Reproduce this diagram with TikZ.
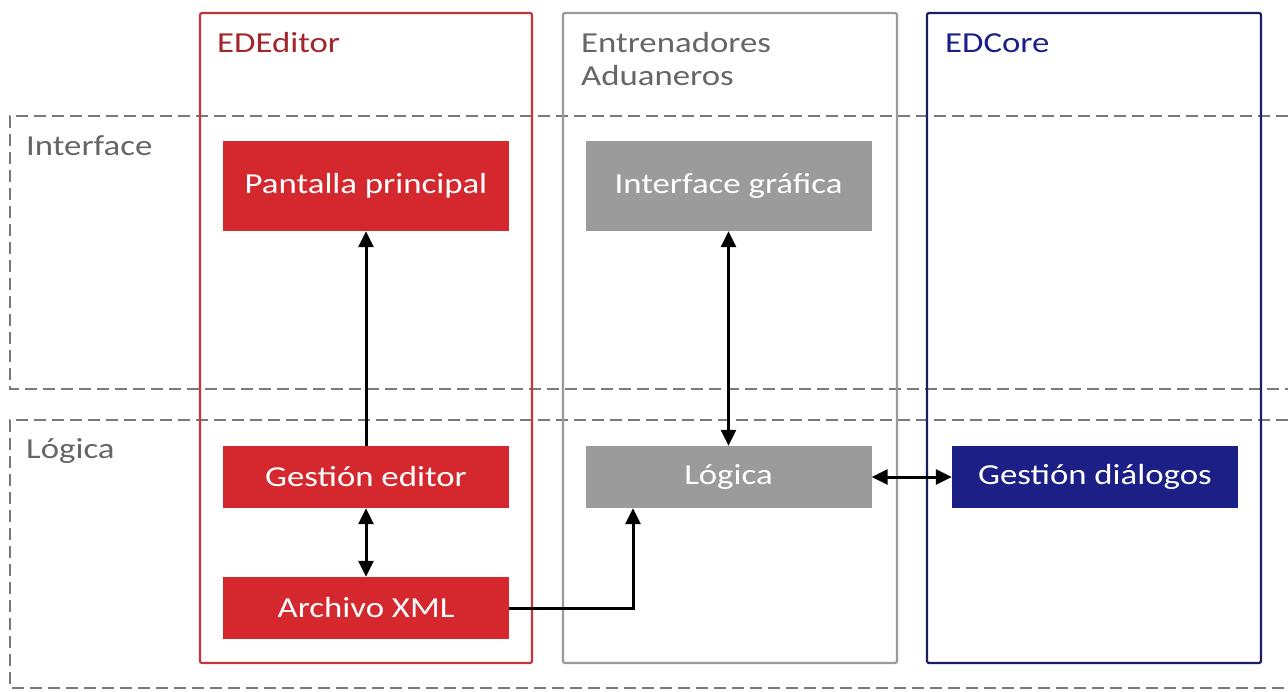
\documentclass[tikz,border=0pt]{standalone}
\usepackage{fontspec}
\setmainfont{Carlito}[FakeStretch=1.2]
\usetikzlibrary{arrows.meta}
\definecolor{cred}{HTML}{D4282E}
\definecolor{credline}{HTML}{C2373C}
\definecolor{credtext}{HTML}{A3262B}
\definecolor{cgray}{HTML}{9B9B9B}
\definecolor{cgrayline}{HTML}{9A9A9A}
\definecolor{cgraytext}{HTML}{666666}
\definecolor{cnavy}{HTML}{1C1F86}
\definecolor{cnavyline}{HTML}{1D1F5C}
\definecolor{cdash}{HTML}{7A7A7A}
\tikzset{
  layerbox/.style={draw=cdash, line width=1.8pt, dash pattern=on 12pt off 6pt},
  container/.style={line width=2.2pt, rounded corners=2pt},
  blockbox/.style={minimum height=62pt, minimum width=286pt, inner sep=0pt,
    text=white, font=\fontsize{29}{32}\selectfont},
  tallbox/.style={blockbox, minimum height=90pt},
  headlabel/.style={anchor=base west, inner sep=0pt, font=\fontsize{29}{33}\selectfont},
  arr/.style={draw=black, line width=3pt,
    -{Triangle[length=16pt,width=15pt]}},
  darr/.style={draw=black, line width=3pt,
    {Triangle[length=16pt,width=15pt]}-{Triangle[length=16pt,width=15pt]}}
}
\begin{document}
\begin{tikzpicture}[x=1pt,y=-1pt]
\useasboundingbox[fill=white] (0,0) rectangle (1288,691);

% layers
\draw[layerbox] (1288,116) -- (10,116) -- (10,389) -- (1288,389);
\draw[layerbox] (1288,420) -- (10,420) -- (10,688) -- (1288,688);
\node[headlabel, text=cgraytext] (linterface) at (26,155) {Interface};
\node[headlabel, text=cgraytext] (llogica) at (26,458) {Lógica};

% containers
\draw[container, draw=credline] (200,13) rectangle (532,663);
\draw[container, draw=cgrayline] (563,13) rectangle (897,663);
\draw[container, draw=cnavyline] (927,13) rectangle (1261,663);
\node[headlabel, text=credtext] (hed) at (217,52) {EDEditor};
\node[headlabel, text=cgraytext] (hent) at (581,52) {Entrenadores};
\node[headlabel, text=cgraytext] (hadu) at (581,85) {Aduaneros};
\node[headlabel, text=cnavy] (hcore) at (945,52) {EDCore};

% blocks
\node[tallbox, fill=cred] (pant) at (366,186) {Pantalla principal};
\node[tallbox, fill=cgray] (igraf) at (728.5,186) {Interface gráfica};
\node[blockbox, fill=cred] (gedit) at (366,477) {Gestión editor};
\node[blockbox, fill=cgray] (logb) at (728.5,477) {Lógica};
\node[blockbox, fill=cnavy] (gdial) at (1095,477) {Gestión diálogos};
\node[blockbox, fill=cred] (xml) at (366,608) {Archivo XML};

% connectors
\draw[arr] (gedit.north) -- (pant.south);
\draw[darr] (igraf.south) -- (logb.north);
\draw[darr] (gedit.south) -- (xml.north);
\draw[arr] (xml.east) -| ([xshift=-95.5pt]logb.south);
\draw[darr] (logb.east) -- (gdial.west);
\end{tikzpicture}
\end{document}
